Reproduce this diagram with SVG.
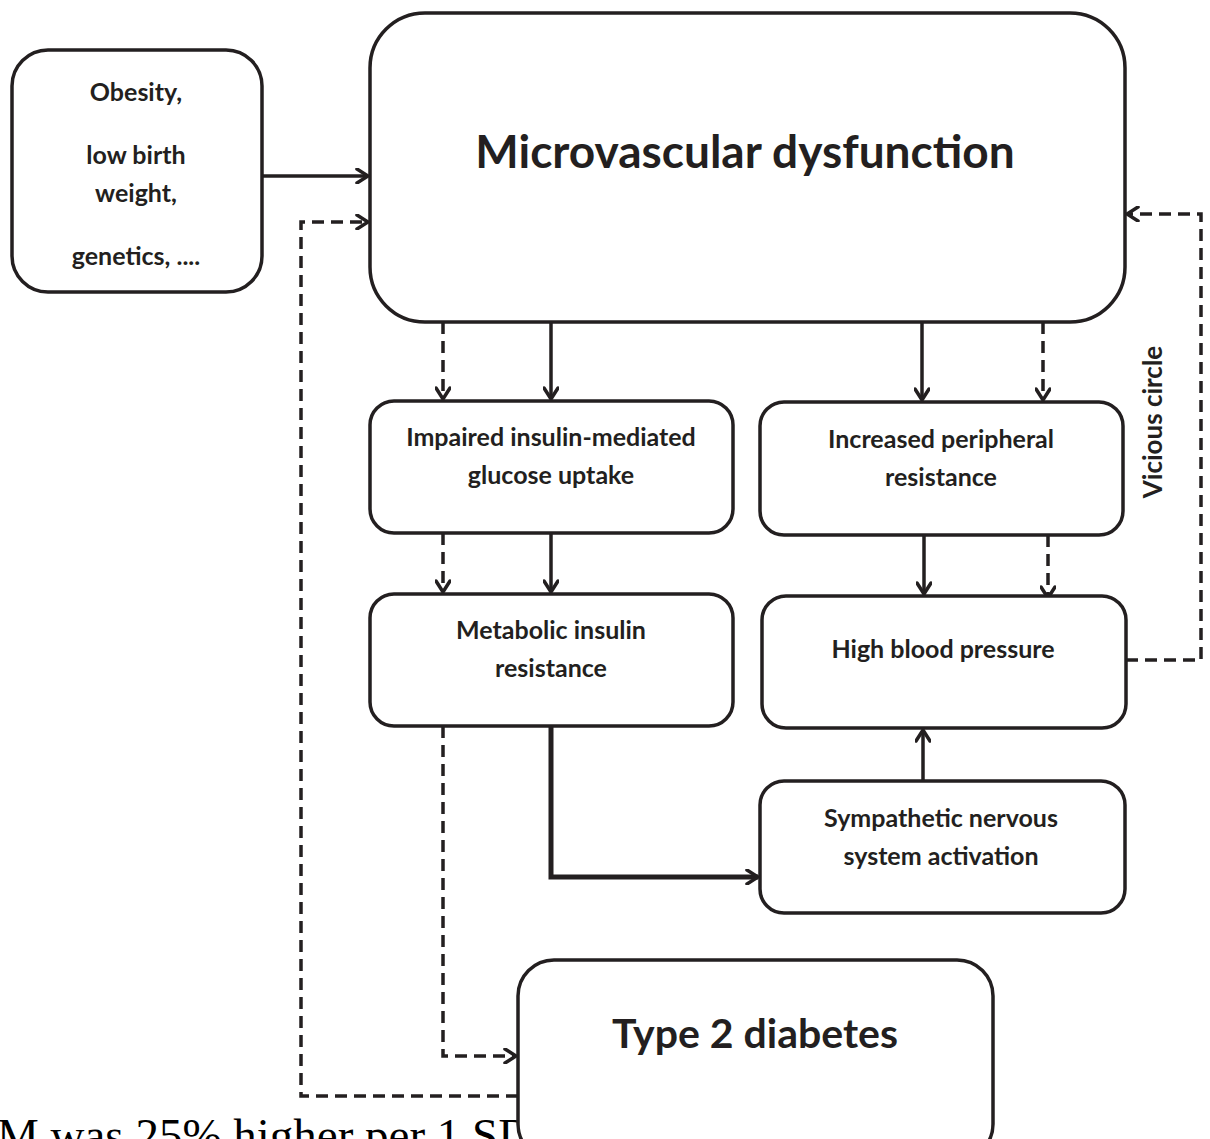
<svg xmlns="http://www.w3.org/2000/svg" width="1210" height="1139" viewBox="0 0 1210 1139">
<style>
.box{fill:#fff;stroke:#231f20;stroke-width:3.5}
.t{font-family:Lato,"Open Sans",sans-serif;font-weight:bold;fill:#231f20;text-anchor:middle}
.s{font-size:25px}
.l{font-size:25px}
.c{fill:none;stroke:#231f20;stroke-width:3.5}
.d{stroke-dasharray:12 7}
</style>
<defs>
<marker id="ah" markerWidth="16" markerHeight="16" viewBox="0 0 16 16" refX="14" refY="8" orient="auto" markerUnits="userSpaceOnUse">
<path d="M3,1 L14,8 L3,15" fill="none" stroke="#231f20" stroke-width="3.5" stroke-linecap="round" stroke-linejoin="miter"/>
</marker>
</defs>
<rect width="1210" height="1139" fill="#fff"/>
<text x="-3" y="1151" font-family="Liberation Serif,serif" font-size="47" fill="#000">M was 25% higher per 1 SD</text>
<g id="connectors">
<path class="c" d="M262,176 H368" marker-end="url(#ah)"/>
<path class="c d" d="M518,1096 H301 V222 H368" marker-end="url(#ah)"/>
<path class="c d" d="M443,322 V399" marker-end="url(#ah)"/>
<path class="c" d="M551,322 V399" marker-end="url(#ah)"/>
<path class="c" d="M922,322 V400" marker-end="url(#ah)"/>
<path class="c d" d="M1043,322 V400" marker-end="url(#ah)"/>
<path class="c d" d="M443,533 V592" marker-end="url(#ah)"/>
<path class="c" d="M551,533 V592" marker-end="url(#ah)"/>
<path class="c" d="M924,535 V594" marker-end="url(#ah)"/>
<path class="c d" d="M1048,535 V598" marker-end="url(#ah)"/>
<path class="c" d="M923,781 V730" marker-end="url(#ah)"/>
<path class="c d" d="M443,726 V1056 H516" marker-end="url(#ah)"/>
<path class="c" style="stroke-width:5" d="M551,726 V877 H758" marker-end="url(#ah)"/>
<path class="c d" d="M1126,660 H1201 V214 H1127" marker-end="url(#ah)"/>
</g>
<g id="n-risk">
<rect class="box" x="12" y="50" width="250" height="242" rx="36"/>
<text class="t l" x="136" y="101">Obesity,</text>
<text class="t l" x="136" y="164">low birth</text>
<text class="t l" x="136" y="202">weight,</text>
<text class="t l" x="136" y="265">genetics, ....</text>
</g>
<g id="n-micro">
<rect class="box" x="370" y="13" width="755" height="309" rx="55"/>
<text class="t" style="font-size:46px" x="745" y="168">Microvascular dysfunction</text>
</g>
<g id="n-impaired">
<rect class="box" x="370" y="401" width="363" height="132" rx="24"/>
<text class="t s" x="551" y="446">Impaired insulin-mediated</text>
<text class="t s" x="551" y="484">glucose uptake</text>
</g>
<g id="n-periph">
<rect class="box" x="760" y="402" width="363" height="133" rx="24"/>
<text class="t s" x="941" y="448">Increased peripheral</text>
<text class="t s" x="941" y="486">resistance</text>
</g>
<g id="n-metab">
<rect class="box" x="370" y="594" width="363" height="132" rx="24"/>
<text class="t s" x="551" y="639">Metabolic insulin</text>
<text class="t s" x="551" y="677">resistance</text>
</g>
<g id="n-hbp">
<rect class="box" x="762" y="596" width="364" height="132" rx="24"/>
<text class="t s" x="943" y="658">High blood pressure</text>
</g>
<g id="n-sns">
<rect class="box" x="760" y="781" width="365" height="132" rx="24"/>
<text class="t s" x="941" y="827">Sympathetic nervous</text>
<text class="t s" x="941" y="865">system activation</text>
</g>
<g id="n-t2d">
<rect class="box" x="518" y="960" width="475" height="200" rx="36"/>
<text class="t" style="font-size:41px" x="755" y="1048">Type 2 diabetes</text>
</g>
<text class="t" style="font-size:26px" transform="translate(1162,422) rotate(-90)">Vicious circle</text>
</svg>
